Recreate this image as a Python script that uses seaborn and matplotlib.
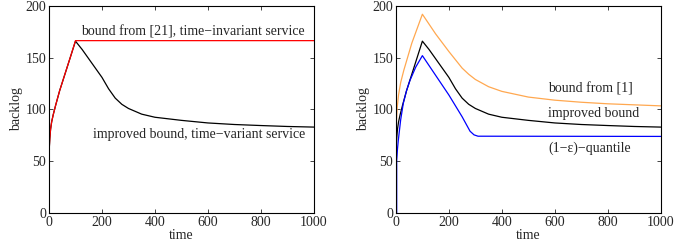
import pandas as pd
import matplotlib.pyplot as plt
import seaborn as sns

# left panel
red_t = [0, 3, 6, 10, 16, 25, 40, 60, 80, 100, 1000]
red_v = [58.5, 72, 81, 88, 95, 104, 118, 134, 150, 166.5, 166.5]

# improved bound (used in both panels)
imp_t = [0, 3, 6, 10, 16, 25, 40, 60, 80, 100, 125, 150, 175, 200, 225, 250,
         275, 300, 350, 400, 500, 600, 700, 800, 900, 1000]
imp_v = [57, 72, 81, 88, 95, 104, 118, 134, 150, 166, 158, 149, 140, 131, 120, 111,
         105, 101, 95.5, 92.5, 89.5, 87, 85.5, 84.5, 83.6, 83]

# right panel
org_t = [0, 2, 5, 10, 18, 30, 45, 60, 80, 100, 150, 200, 225, 250, 275, 300,
         350, 400, 500, 600, 700, 800, 900, 1000]
org_v = [68, 88, 102, 114, 126, 138, 151, 164, 178, 192, 173, 156, 148, 140, 134, 129,
         122, 117.5, 112, 109, 107, 105.5, 104.5, 103.5]

blue_t = [3, 3, 4.5, 6, 9, 18, 28, 40, 53, 75, 100, 150, 200, 250, 280, 295, 310, 1000]
blue_v = [0, 51, 56, 62, 70, 90, 106, 118, 128, 141, 152, 133, 114, 93, 79, 75.5, 74.2, 74]

sns.set_style('ticks')
plt.rcParams['font.family'] = ['Liberation Serif', 'DejaVu Serif']

fig = plt.figure(figsize=(6.97, 2.48), dpi=100)
ax1 = fig.add_axes([0.0703, 0.141, 0.380, 0.835])
ax2 = fig.add_axes([0.568, 0.141, 0.380, 0.835])

lw = 0.9
sns.lineplot(x=imp_t, y=imp_v, ax=ax1, color='black', lw=lw, sort=False, estimator=None)
sns.lineplot(x=red_t, y=red_v, ax=ax1, color='#ff0000', lw=lw, sort=False, estimator=None)

sns.lineplot(x=org_t, y=org_v, ax=ax2, color='#ffa850', lw=lw, sort=False, estimator=None)
sns.lineplot(x=imp_t, y=imp_v, ax=ax2, color='black', lw=lw, sort=False, estimator=None)
sns.lineplot(x=blue_t, y=blue_v, ax=ax2, color='#0000ff', lw=lw, sort=False, estimator=None)

fs = 10
ax1.text(966, 175, 'bound from [21], time\u2212invariant service', ha='right', va='center', fontsize=fs)
ax1.text(966, 75.5, 'improved bound, time\u2212variant service', ha='right', va='center', fontsize=fs)
ax2.text(574, 120, 'bound from [1]', ha='left', va='center', fontsize=fs)
ax2.text(574, 96, 'improved bound', ha='left', va='center', fontsize=fs)
ax2.text(574, 63, '(1\u2212\u03b5)\u2212quantile', ha='left', va='center', fontsize=fs)

for ax in (ax1, ax2):
    ax.set_xlim(0, 1000)
    ax.set_ylim(0, 200)
    ax.set_xticks(range(0, 1001, 200))
    ax.set_yticks(range(0, 201, 50))
    ax.tick_params(direction='in', top=True, right=True, labelsize=fs, length=3, width=0.6, pad=2)
    ax.set_xlabel('time', fontsize=fs, labelpad=0)
    ax.set_ylabel('backlog', fontsize=fs, labelpad=2)
    for s in ax.spines.values():
        s.set_visible(True)
        s.set_linewidth(0.8)
        s.set_color('black')

fig.savefig('out.png', dpi=100)
